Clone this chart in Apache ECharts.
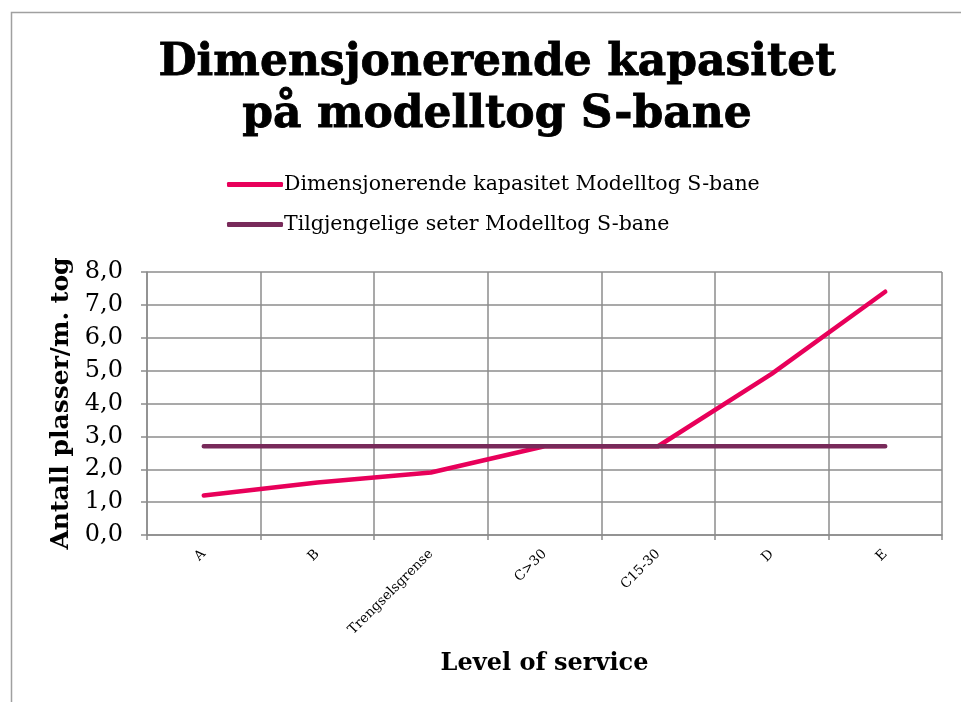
<!DOCTYPE html>
<html><head><meta charset="utf-8">
<script src="https://cdn.jsdelivr.net/npm/echarts@6/dist/echarts.min.js"></script>
<style>html,body{margin:0;padding:0;background:#fff}#c{width:961px;height:702px}</style>
</head><body><div id="c"></div>
<script>
const categories = ['A', 'B', 'Trengselsgrense', 'C>30', 'C15-30', 'D', 'E'];
const dimensjonerende = [1.2, 1.6, 1.9, 2.7, 2.7, 4.9, 7.4];
const tilgjengelige = [2.7, 2.7, 2.7, 2.7, 2.7, 2.7, 2.7];
const seriesNames = ['Dimensjonerende kapasitet Modelltog S-bane', 'Tilgjengelige seter Modelltog S-bane'];

const FONT = 'DejaVu Serif';
const GRID = '#8c8c8c';
const chart = echarts.init(document.getElementById('c'));
chart.setOption({
  backgroundColor: '#fff',
  animation: false,
  graphic: [{ type: 'rect', shape: { x: 11.5, y: 12.5, width: 2000, height: 2000 }, style: { fill: 'none', stroke: '#a0a0a0', lineWidth: 1.5 }, silent: true }],
  title: {
    text: 'Dimensjonerende kapasitet\npå modelltog S-bane',
    left: 492, top: 33, textAlign: 'center',
    textStyle: { fontFamily: FONT, fontWeight: 'bold', fontSize: 44, lineHeight: 52, color: '#000', textBorderColor: '#000', textBorderWidth: 0.8 }
  },
  legend: {
    orient: 'vertical', left: 222, top: 169, itemWidth: 56, itemHeight: 5, itemGap: 19,
    icon: 'roundRect',
    textStyle: { fontFamily: FONT, fontSize: 20.5, color: '#000', padding: [0, 0, 0, -4] },
    data: seriesNames
  },
  grid: { left: 147, right: 19, top: 272, bottom: 167, containLabel: false },
  xAxis: {
    type: 'category', data: categories, boundaryGap: true,
    name: 'Level of service', nameLocation: 'middle', nameGap: 117,
    nameTextStyle: { fontFamily: FONT, fontWeight: 'bold', fontSize: 24, color: '#000' },
    axisLine: { lineStyle: { color: GRID, width: 1.5 } },
    axisTick: { show: true, length: 5, lineStyle: { color: GRID, width: 1.5 } },
    splitLine: { show: true, lineStyle: { color: GRID, width: 1.5 } },
    axisLabel: { rotate: 45, fontFamily: FONT, fontSize: 13.5, color: '#000', margin: 17, interval: 0 }
  },
  yAxis: {
    type: 'value', min: 0, max: 8, interval: 1,
    name: 'Antall plasser/m. tog', nameLocation: 'middle', nameGap: 73,
    nameTextStyle: { fontFamily: FONT, fontWeight: 'bold', fontSize: 25, color: '#000' },
    axisLine: { show: true, lineStyle: { color: GRID, width: 1.5 } },
    axisTick: { show: true, length: 6, lineStyle: { color: GRID, width: 1.5 } },
    splitLine: { show: true, lineStyle: { color: GRID, width: 1.5 } },
    axisLabel: { fontFamily: FONT, fontSize: 24, color: '#000', margin: 24, formatter: v => v.toFixed(1).replace('.', ',') }
  },
  series: [
    { name: seriesNames[0], type: 'line', data: dimensjonerende, symbol: 'none', color: '#e8005a',
      lineStyle: { width: 4.5, color: '#e8005a', cap: 'round', join: 'round' }, z: 3 },
    { name: seriesNames[1], type: 'line', data: tilgjengelige, symbol: 'none', color: '#782a5a',
      lineStyle: { width: 4.5, color: '#782a5a', cap: 'round' }, z: 4 }
  ]
});
</script></body></html>
